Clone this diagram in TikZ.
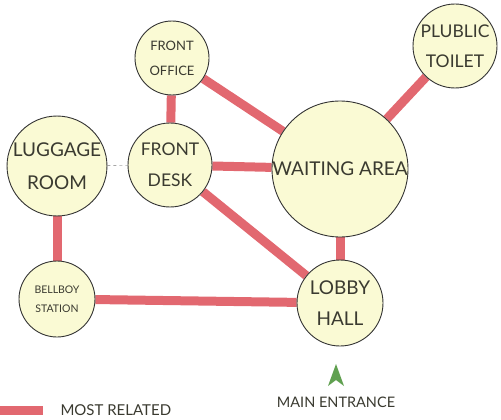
\documentclass[tikz,border=0pt]{standalone}
\usepackage{fontspec}
\setmainfont{Lato}
\usepackage{xcolor}
\usetikzlibrary{positioning, backgrounds}

\definecolor{roomfill}{RGB}{250,250,212}
\definecolor{linkred}{RGB}{226,104,112}
\definecolor{textgray}{RGB}{58,58,48}
\definecolor{entrygreen}{RGB}{96,160,80}

\tikzset{
    room/.style={circle, draw=black!80, line width=0.9pt, fill=roomfill,
        text=textgray, align=center, inner sep=0pt},
    related/.style={linkred, line width=9pt},
    weak/.style={black!35, dashed, line width=0.6pt},
}

\begin{document}
\begin{tikzpicture}[x=1pt, y=-1pt]
    \useasboundingbox (0,0) rectangle (501,420);

    % rooms
    \node[room, minimum size=74pt, font=\fontsize{13}{25}\selectfont] (office) at (172,58) {FRONT\\OFFICE};
    \node[room, minimum size=84pt, font=\fontsize{17.5}{31}\selectfont] (desk) at (170,165) {FRONT\\DESK};
    \node[room, minimum size=96pt, font=\fontsize{19}{33}\selectfont] (luggage) at (57,166) {LUGGAGE\\ROOM};
    \node[room, minimum size=136pt, font=\fontsize{19}{20}\selectfont] (waiting) at (340,169) {WAITING AREA};
    \node[room, minimum size=84pt, font=\fontsize{17.5}{30}\selectfont] (toilet) at (455,46) {PLUBLIC\\TOILET};
    \node[room, minimum size=86pt, font=\fontsize{19}{31}\selectfont] (lobby) at (340,303) {LOBBY\\HALL};
    \node[room, minimum size=76pt, font=\fontsize{10.5}{19}\selectfont] (bellboy) at (57,299) {BELLBOY\\STATION};

    % links
    \begin{scope}[on background layer]
        \draw[related] (office) -- (desk);
        \draw[related] (office) -- (waiting);
        \draw[related] (desk) -- (waiting);
        \draw[related] (desk) -- (lobby);
        \draw[related] (waiting) -- (lobby);
        \draw[related] (waiting) -- (toilet);
        \draw[related] (luggage) -- (bellboy);
        \draw[related] (bellboy) -- (lobby);
        \draw[weak] (luggage) -- (desk);
    \end{scope}

    % entrance
    \coordinate (entry) at (336,376);
    \fill[entrygreen] ([yshift=12pt]entry) -- ([xshift=8pt, yshift=-10pt]entry)
        -- ([yshift=-4pt]entry) -- ([xshift=-8pt, yshift=-10pt]entry) -- cycle;
    \node[text=textgray, font=\fontsize{14.5}{16}\selectfont] (entrylabel) at (336,402) {MAIN ENTRANCE};

    % legend
    \coordinate (keyleft) at (0,410);
    \coordinate (keyright) at (43,410);
    \draw[related] (keyleft) -- (keyright);
    \node[right=14pt of keyright, text=textgray, font=\fontsize{15}{17}\selectfont] (keylabel) {MOST RELATED};
\end{tikzpicture}
\end{document}
